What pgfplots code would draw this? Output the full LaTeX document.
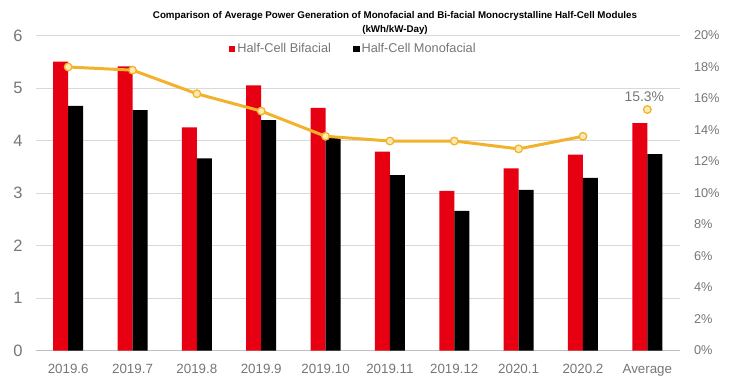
\documentclass[border=0pt]{standalone}
\usepackage{fontspec}
\setmainfont{Liberation Sans}
\usepackage{pgfplots}
\pgfplotsset{compat=1.18}
\definecolor{barred}{RGB}{230,0,18}
\definecolor{linegold}{RGB}{242,178,44}
\definecolor{markfill}{RGB}{252,236,180}
\definecolor{txtgray}{RGB}{118,118,118}
\definecolor{gridgray}{RGB}{217,217,217}
\definecolor{axisgray}{RGB}{191,191,191}
\pgfplotsset{/pgf/number format/assume math mode=true}
\begin{document}
\begin{tikzpicture}[x=1bp,y=1bp]
\path[use as bounding box] (0,0) rectangle (735,385);
\node[font=\bfseries\fontsize{9.8}{15}\selectfont, align=center] at (395,362)
  {Comparison of Average Power Generation of Monofacial and Bi-facial Monocrystalline Half-Cell Modules\\(kWh/kW-Day)};
\begin{axis}[
  at={(36bp,34.5bp)}, anchor=south west,
  scale only axis, width=643.5bp, height=315bp,
  xmin=-0.5, xmax=9.5, ymin=0, ymax=6,
  ytick={0,1,...,6}, xtick={0,1,...,9},
  xticklabels={2019.6,2019.7,2019.8,2019.9,2019.10,2019.11,2019.12,2020.1,2020.2,Average},
  axis x line*=bottom, axis y line*=left,
  y axis line style={draw=none},
  x axis line style={draw=axisgray, line width=0.8bp, -},
  major tick length=0pt,
  ymajorgrids, grid style={draw=gridgray, line width=0.8bp},
  tick label style={text=txtgray},
  yticklabel style={font=\fontsize{16.5}{18}\selectfont, xshift=-10bp},
  xticklabel style={font=\fontsize{13.4}{15}\selectfont, yshift=-10bp},
  ybar, bar width=15bp,
  legend style={at={(0.493,0.957)}, anchor=center, draw=none, fill=none,
    legend columns=2, font=\fontsize{12.8}{14}\selectfont, text=txtgray,
    /tikz/every even column/.append style={column sep=20bp}},
]
\addplot[fill=barred, draw=none, bar shift=-7.5bp,
  legend image code/.code={\fill[barred] (0bp,-3.3bp) rectangle (6.6bp,3.3bp);}]
  coordinates {(0,5.50) (1,5.41) (2,4.25) (3,5.05) (4,4.62) (5,3.79) (6,3.04) (7,3.47) (8,3.73) (9,4.33)};
\addlegendentry{Half-Cell Bifacial}
\addplot[fill=black, draw=none, bar shift=7.5bp,
  legend image code/.code={\fill[black] (0bp,-3.3bp) rectangle (6.6bp,3.3bp);}]
  coordinates {(0,4.66) (1,4.58) (2,3.66) (3,4.39) (4,4.05) (5,3.34) (6,2.66) (7,3.06) (8,3.29) (9,3.74)};
\addlegendentry{Half-Cell Monofacial}
\end{axis}
\begin{axis}[
  at={(36bp,34.5bp)}, anchor=south west,
  scale only axis, width=643.5bp, height=315bp,
  xmin=-0.5, xmax=9.5, ymin=0, ymax=20,
  hide x axis,
  axis y line*=right, y axis line style={draw=none},
  major tick length=0pt,
  ytick={0,2,...,20},
  yticklabel={\pgfmathprintnumber{\tick}\%},
  yticklabel style={text=txtgray, font=\fontsize{12.8}{14}\selectfont, xshift=11bp},
]
\addplot[linegold, line width=3bp, mark=*, mark size=3.8bp,
  mark options={fill=markfill, draw=linegold, line width=1.3bp}]
  coordinates {(0,18.0) (1,17.8) (2,16.3) (3,15.2) (4,13.6) (5,13.3) (6,13.3) (7,12.8) (8,13.6)};
\addplot[only marks, mark=*, mark size=3.8bp,
  mark options={fill=markfill, draw=linegold, line width=1.3bp},
  nodes near coords={15.3\%},
  nodes near coords style={text=txtgray, font=\fontsize{14}{16}\selectfont, yshift=4bp, xshift=-3bp}]
  coordinates {(9,15.3)};
\end{axis}
\end{tikzpicture}
\end{document}
